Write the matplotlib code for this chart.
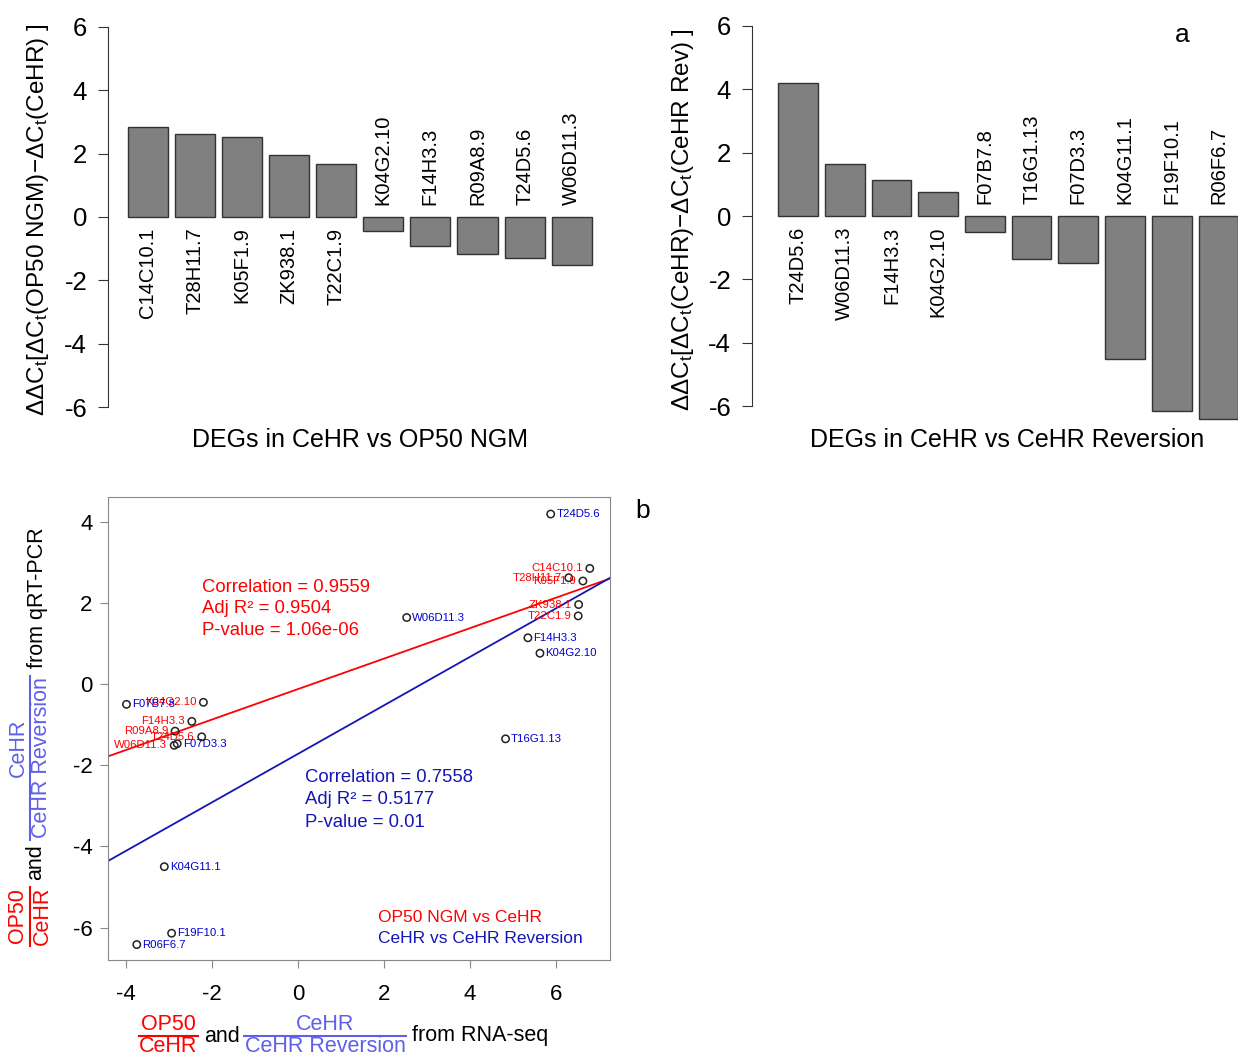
import matplotlib
matplotlib.use('Agg')
import matplotlib.pyplot as plt
import numpy as np
from matplotlib.lines import Line2D

plt.rcParams['font.family'] = ['Liberation Sans', 'DejaVu Sans']
plt.rcParams['axes.unicode_minus'] = False
plt.rcParams['mathtext.fontset'] = 'custom'
plt.rcParams['mathtext.rm'] = 'Liberation Sans'
plt.rcParams['mathtext.it'] = 'Liberation Sans:italic'

# ---------------- data ----------------
genes_op50 = ['C14C10.1', 'T28H11.7', 'K05F1.9', 'ZK938.1', 'T22C1.9',
              'K04G2.10', 'F14H3.3', 'R09A8.9', 'T24D5.6', 'W06D11.3']
qpcr_op50 = [2.85, 2.62, 2.54, 1.96, 1.68, -0.45, -0.92, -1.16, -1.30, -1.51]
rnaseq_op50 = [6.79, 6.30, 6.63, 6.53, 6.52, -2.20, -2.47, -2.86, -2.24, -2.88]

genes_rev = ['T24D5.6', 'W06D11.3', 'F14H3.3', 'K04G2.10', 'F07B7.8',
             'T16G1.13', 'F07D3.3', 'K04G11.1', 'F19F10.1', 'R06F6.7']
qpcr_rev = [4.19, 1.64, 1.14, 0.76, -0.50, -1.35, -1.47, -4.50, -6.14, -6.42]
rnaseq_rev = [5.88, 2.53, 5.35, 5.63, -3.99, 4.83, -2.81, -3.11, -2.94, -3.75]

stats_op50 = ['Correlation = 0.9559', 'Adj R\u00b2 = 0.9504', 'P-value = 1.06e-06']
stats_rev = ['Correlation = 0.7558', 'Adj R\u00b2 = 0.5177', 'P-value = 0.01']
yticks_bar = [-6, -4, -2, 0, 2, 4, 6]
xticks_sc = [-4, -2, 0, 2, 4, 6]
yticks_sc = [-6, -4, -2, 0, 2, 4]

RED = '#FF0000'
BLUE = '#0000CD'
DBLUE = '#1515B5'
LBLUE = '#5F5FEA'

W, H = 1238, 1057
fig = plt.figure(figsize=(W / 100, H / 100), dpi=100)


def rect(l, t, r, b):
    return [l / W, 1 - b / H, (r - l) / W, (b - t) / H]


def fx(x):
    return x / W


def fy(y):
    return 1 - y / H


def bar_panel(r, genes, vals, xlim):
    ax = fig.add_axes(r)
    x = np.arange(len(genes))
    ax.bar(x, vals, width=0.85, color='#808080', edgecolor='#333333', linewidth=1.0)
    for xi, g, v in zip(x, genes, vals):
        if v >= 0:
            ax.text(xi, -0.33, g, rotation=90, ha='center', va='top', fontsize=14.5)
        else:
            ax.text(xi, 0.38, g, rotation=90, ha='center', va='bottom', fontsize=14.5)
    ax.set_yticks(yticks_bar)
    ax.set_xticks([])
    ax.set_xlim(*xlim)
    ax.set_ylim(-6.5, 6.5)
    for s in ['top', 'right', 'bottom']:
        ax.spines[s].set_visible(False)
    ax.spines['left'].set_bounds(-6, 6)
    ax.spines['left'].set_color('#333333')
    ax.tick_params(axis='y', length=7, labelsize=18.5, pad=8, color='#333333')
    ax.patch.set_alpha(0)
    return ax


ax1 = bar_panel(rect(108, 11, 600, 423), genes_op50, qpcr_op50, (-0.84, 9.6))
ax2 = bar_panel(rect(752, 10, 1238, 422), genes_rev, qpcr_rev, (-0.985, 9.42))

fig.text(fx(38), fy(220),
         r'$\Delta\Delta$C$_\mathrm{t}$[$\Delta$C$_\mathrm{t}$(OP50 NGM)$-\Delta$C$_\mathrm{t}$(CeHR) ]',
         rotation=90, ha='center', va='center', fontsize=17.5)
fig.text(fx(683), fy(220),
         r'$\Delta\Delta$C$_\mathrm{t}$[$\Delta$C$_\mathrm{t}$(CeHR)$-\Delta$C$_\mathrm{t}$(CeHR Rev) ]',
         rotation=90, ha='center', va='center', fontsize=17.5)
fig.text(fx(360), fy(440), 'DEGs in CeHR vs OP50 NGM', ha='center', va='center', fontsize=18)
fig.text(fx(1007), fy(440), 'DEGs in CeHR vs CeHR Reversion', ha='center', va='center', fontsize=18)
fig.text(fx(1182), fy(35), 'a', ha='center', va='center', fontsize=19)
fig.text(fx(643), fy(511), 'b', ha='center', va='center', fontsize=19)

# ---------------- scatter ----------------
ax3 = fig.add_axes(rect(108, 497, 610, 960))
ax3.set_xticks(xticks_sc)
ax3.set_yticks(yticks_sc)
ax3.set_xlim(-4.42, 7.26)
ax3.set_ylim(-6.8, 4.61)
for s in ax3.spines.values():
    s.set_color('#888888')
ax3.tick_params(length=6, labelsize=16, color='#888888', pad=5)
ax3.tick_params(axis='x', pad=11)

xx = np.array(ax3.get_xlim())
p1 = np.polyfit(rnaseq_op50, qpcr_op50, 1)
p2 = np.polyfit(rnaseq_rev, qpcr_rev, 1)
ax3.plot(xx, np.polyval(p1, xx), color=RED, lw=1.3, zorder=2)
ax3.plot(xx, np.polyval(p2, xx), color=DBLUE, lw=1.3, zorder=2)

ax3.scatter(rnaseq_op50, qpcr_op50, s=28, facecolors='none', edgecolors='#222222',
            linewidths=1.1, zorder=3)
ax3.scatter(rnaseq_rev, qpcr_rev, s=28, facecolors='none', edgecolors='#222222',
            linewidths=1.1, zorder=3)
for g, x, y in zip(genes_op50, rnaseq_op50, qpcr_op50):
    ax3.annotate(g, (x, y), xytext=(-5, 0), textcoords='offset points',
                 ha='right', va='center', fontsize=8.2, color=RED, zorder=4)
for g, x, y in zip(genes_rev, rnaseq_rev, qpcr_rev):
    ax3.annotate(g, (x, y), xytext=(4, 0), textcoords='offset points',
                 ha='left', va='center', fontsize=8.2, color=BLUE, zorder=4)

for i, t in enumerate(stats_op50):
    ax3.text(-2.23, 2.39 - 0.54 * i, t, color=RED, fontsize=13.3, ha='left', va='center')
for i, t in enumerate(stats_rev):
    ax3.text(0.16, -2.3 - 0.55 * i, t, color=DBLUE, fontsize=13.3, ha='left', va='center')
ax3.text(1.86, -5.76, 'OP50 NGM vs CeHR', color=RED, fontsize=12.5, ha='left', va='center')
ax3.text(1.86, -6.28, 'CeHR vs CeHR Reversion', color=DBLUE, fontsize=12.5, ha='left', va='center')

# x-axis composite label
FS = 15.5
fig.text(fx(168), fy(1024), 'OP50', color=RED, fontsize=FS, ha='center', va='center')
fig.text(fx(168), fy(1047), 'CeHR', color=RED, fontsize=FS, ha='center', va='center')
fig.add_artist(Line2D([fx(139), fx(198)], [fy(1036), fy(1036)], color=RED, lw=1.5))
fig.text(fx(222), fy(1036), 'and', color='black', fontsize=FS, ha='center', va='center')
fig.text(fx(325), fy(1024), 'CeHR', color=LBLUE, fontsize=FS, ha='center', va='center')
fig.text(fx(325), fy(1047), 'CeHR Reversion', color=LBLUE, fontsize=FS, ha='center', va='center')
fig.add_artist(Line2D([fx(244), fx(406)], [fy(1036), fy(1036)], color=LBLUE, lw=1.5))
fig.text(fx(412), fy(1036), 'from RNA-seq', color='black', fontsize=FS, ha='left', va='center')

# y-axis composite label
fig.text(fx(18), fy(916), 'OP50', color=RED, fontsize=FS, ha='center', va='center', rotation=90)
fig.text(fx(42), fy(916), 'CeHR', color=RED, fontsize=FS, ha='center', va='center', rotation=90)
fig.add_artist(Line2D([fx(30), fx(30)], [fy(887), fy(946)], color=RED, lw=1.5))
fig.text(fx(36), fy(862), 'and', color='black', fontsize=FS, ha='center', va='center', rotation=90)
fig.text(fx(18), fy(748), 'CeHR', color=LBLUE, fontsize=FS, ha='center', va='center', rotation=90)
fig.text(fx(42), fy(758), 'CeHR Reversion', color=LBLUE, fontsize=FS, ha='center', va='center', rotation=90)
fig.add_artist(Line2D([fx(30), fx(30)], [fy(676), fy(840)], color=LBLUE, lw=1.5))
fig.text(fx(38), fy(598), 'from qRT-PCR', color='black', fontsize=FS, ha='center', va='center', rotation=90)

fig.savefig('out.png', dpi=100)
